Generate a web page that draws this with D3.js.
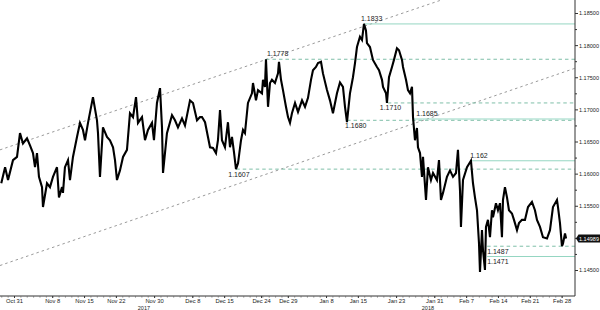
<!DOCTYPE html>
<html>
<head>
<meta charset="utf-8">
<script src="https://cdn.jsdelivr.net/npm/d3@7"></script>
<style>
  body { margin: 0; background: #fff; }
  svg { display: block; }
  text { font-family: "Liberation Sans", Arial, sans-serif; }
</style>
</head>
<body>
<div id="chart"></div>
<script>
// EUR/USD, x = trading day since Oct 27 2017, y = price
const eurusd = [
  [0,1.1585],[0.6,1.1610],[1.06,1.1590],[1.84,1.1621],[2.47,1.1626],[2.94,1.1663],[3.41,1.1647],[4.04,1.1655],
  [4.51,1.1644],[4.98,1.1632],[5.3,1.1610],[5.61,1.1632],[5.92,1.1595],[6.4,1.1579],[6.55,1.1548],[7.18,1.1585],
  [7.65,1.1579],[8.12,1.1595],[8.75,1.1610],[9.06,1.1563],[9.54,1.1579],[9.69,1.1570],[10.0,1.1610],[10.48,1.1621],
  [10.79,1.1590],[11.26,1.1626],[11.89,1.1657],[12.36,1.1679],[12.83,1.1668],[13.15,1.1652],[13.62,1.1679],[14.4,1.1719],
  [15.03,1.1683],[15.19,1.1663],[15.5,1.1595],[15.97,1.1672],[16.6,1.1657],[17.07,1.1652],[17.55,1.1641],[17.86,1.1621],
  [18.17,1.1590],[18.64,1.1605],[19.12,1.1626],[19.74,1.1637],[20.21,1.1694],[20.69,1.1688],[21.16,1.1719],[21.47,1.1679],
  [22.1,1.1688],[22.57,1.1652],[23.04,1.1668],[23.67,1.1679],[23.98,1.1652],[24.45,1.1710],[24.93,1.1733],[25.24,1.1672],
  [25.4,1.1601],[26.02,1.1663],[26.81,1.1691],[27.28,1.1683],[27.75,1.1672],[28.38,1.1686],[28.85,1.1675],[29.64,1.1714],
  [30.11,1.1710],[30.74,1.1683],[31.21,1.1688],[31.52,1.1688],[32.0,1.1680],[32.46,1.1657],[32.78,1.1641],[33.25,1.1640],
  [33.72,1.1632],[34.03,1.1652],[34.35,1.1699],[34.66,1.1652],[35.13,1.1641],[35.6,1.1680],[35.92,1.1641],[36.23,1.1657],
  [36.55,1.1633],[36.86,1.1607],[37.18,1.1616],[37.65,1.1652],[37.96,1.1668],[38.27,1.1663],[38.74,1.1710],[39.37,1.1725],
  [39.53,1.1741],[40.0,1.1714],[40.32,1.1730],[40.94,1.1725],[41.1,1.1746],[41.41,1.1735],[41.57,1.1778],[41.89,1.1704],
  [42.2,1.1741],[42.51,1.1746],[42.98,1.1741],[43.46,1.1756],[43.61,1.1774],[43.93,1.1746],[44.24,1.1730],[44.71,1.1704],
  [45.03,1.1688],[45.34,1.1679],[45.65,1.1694],[46.13,1.1710],[46.6,1.1696],[47.23,1.1714],[47.7,1.1704],[48.17,1.1718],
  [48.64,1.1746],[48.95,1.1761],[49.42,1.1766],[49.74,1.1772],[50.21,1.1774],[50.52,1.1756],[51.15,1.1730],[51.62,1.1714],
  [52.09,1.1694],[52.72,1.1725],[53.19,1.1742],[53.66,1.1735],[53.98,1.1704],[54.29,1.1680],[54.76,1.1725],[55.23,1.1750],
  [55.55,1.1772],[55.86,1.1797],[56.33,1.1813],[56.65,1.1808],[56.96,1.1833],[57.27,1.1823],[57.43,1.1803],[57.9,1.1797],
  [58.37,1.1777],[59.0,1.1766],[59.32,1.1761],[59.79,1.1746],[59.95,1.1735],[60.42,1.1725],[60.57,1.1710],[60.89,1.1750],
  [61.36,1.1766],[61.67,1.1777],[62.14,1.1795],[62.46,1.1792],[62.93,1.1777],[63.09,1.1766],[63.56,1.1746],[63.87,1.1730],
  [64.19,1.1725],[64.5,1.1735],[64.66,1.1688],[64.97,1.1652],[65.28,1.1671],[65.44,1.1641],[65.76,1.1632],[66.07,1.1595],
  [66.23,1.1626],[66.7,1.1559],[67.01,1.1610],[67.48,1.1590],[67.8,1.1601],[68.42,1.1590],[68.74,1.1621],[69.05,1.1559],
  [69.37,1.1570],[69.99,1.1595],[70.47,1.1605],[70.94,1.1595],[71.41,1.1601],[71.72,1.1637],[72.04,1.1574],[72.19,1.1517],
  [72.51,1.1590],[73.14,1.1610],[73.76,1.1620],[74.08,1.1585],[74.39,1.1563],[74.71,1.1543],[75.02,1.1492],[75.18,1.1447],
  [75.49,1.1512],[75.65,1.1481],[75.96,1.1450],[76.12,1.1517],[76.43,1.1528],[76.75,1.1501],[77.06,1.1543],[77.22,1.1532],
  [77.69,1.1554],[78.0,1.1543],[78.32,1.1554],[78.63,1.1501],[78.79,1.1559],[79.1,1.1579],[79.42,1.1563],[79.73,1.1543],
  [80.2,1.1538],[80.52,1.1528],[80.99,1.1512],[81.3,1.1523],[81.77,1.1528],[82.24,1.1528],[82.72,1.1548],[83.34,1.1556],
  [83.81,1.1543],[84.13,1.1528],[84.6,1.1517],[85.07,1.1501],[85.7,1.1499],[86.17,1.1512],[86.64,1.1548],[87.27,1.1559],
  [87.43,1.1548],[87.74,1.1523],[88.05,1.1487],[88.21,1.1491],[88.53,1.1507],[88.7,1.14989]
];

const tickDays = [2, 8, 13, 18, 24, 30, 35, 40.8, 45, 51, 56, 62, 68, 73, 78, 83, 88];
const tickLabels = ['Oct 31','Nov 8','Nov 15','Nov 22','Nov 30','Dec 8','Dec 15','Dec 24','Dec 29',
                    'Jan 8','Jan 15','Jan 23','Jan 31','Feb 7','Feb 14','Feb 21','Feb 28'];
const yearDays = [22.4, 67];
const yearLabels = ['2017', '2018'];
const priceTicks = [1.145, 1.150, 1.155, 1.160, 1.165, 1.170, 1.175, 1.180, 1.185];

const levelPrices = [1.1833, 1.1778, 1.1710, 1.1683, 1.1685, 1.1607, 1.1620, 1.1487, 1.1471];
const levelStart  = [56.96, 41.57, 60.7, 54.3, 64.7, 36.9, 73.8, 76.3, 76.3];
const levelLabels = ['1.1833','1.1778','1.1710','1.1680','1.1685','1.1607','1.162','1.1487','1.1471'];
const levelDashed = [false, true, true, true, false, true, false, true, false];

const channelUpper = [[-0.2, 1.1637], [69.05, 1.1870]];
const channelLower = [[-0.2, 1.1457], [90.1, 1.1764]];
const lastPrice = 1.14989;

const width = 600, height = 310;
const axisX = 575, axisY = 296;

const svg = d3.select('#chart').append('svg')
    .attr('width', width)
    .attr('height', height);

const x = d3.scaleLinear().domain([-0.2, 90.1]).range([0, axisX]);
const y = d3.scaleLinear().domain([1.145, 1.185]).range([270, 13]);

svg.append('defs').append('clipPath').attr('id', 'plot')
  .append('rect').attr('x', 0).attr('y', 0).attr('width', axisX).attr('height', axisY);

const plot = svg.append('g').attr('clip-path', 'url(#plot)');

// trend channel
const seg = d3.line().x(d => x(d[0])).y(d => y(d[1]));
[channelUpper, channelLower].forEach(c => {
  plot.append('path')
      .attr('d', seg(c))
      .attr('fill', 'none')
      .attr('stroke', '#9a9a9a')
      .attr('stroke-width', 1)
      .attr('stroke-dasharray', '2.5,3');
});

// support / resistance levels
const placeBelow = [false, false, true, true, false, true, false, true, true];
const labelDx = [-3, 1, -8, -2, 3, -8, -1, 0, 0];
levelPrices.forEach((p, i) => {
  plot.append('line')
      .attr('x1', x(levelStart[i])).attr('x2', axisX)
      .attr('y1', y(p)).attr('y2', y(p))
      .attr('stroke', levelDashed[i] ? '#7fbfa8' : '#95d6c2')
      .attr('stroke-width', 1)
      .attr('stroke-dasharray', levelDashed[i] ? '3.5,3' : null);
  svg.append('text')
      .attr('x', x(levelStart[i]) + labelDx[i])
      .attr('y', y(p) + (placeBelow[i] ? 7.5 : -3))
      .attr('font-size', 7)
      .attr('fill', '#222')
      .text(levelLabels[i]);
});

// price line
plot.append('path')
    .datum(eurusd)
    .attr('d', d3.line().x(d => x(d[0])).y(d => y(d[1])))
    .attr('fill', 'none')
    .attr('stroke', '#000')
    .attr('stroke-width', 2.1)
    .attr('stroke-linejoin', 'miter');

// y axis
svg.append('line').attr('x1', axisX).attr('x2', axisX).attr('y1', 0).attr('y2', axisY)
    .attr('stroke', '#333').attr('stroke-width', 1);
const yMinor = svg.append('g').attr('transform', `translate(${axisX},0)`)
    .call(d3.axisRight(y).tickValues(priceTicks.slice(0, -1).map(v => v + 0.0025)).tickSize(2).tickFormat(''));
yMinor.select('.domain').remove();
const yAxis = svg.append('g').attr('transform', `translate(${axisX},0)`)
    .call(d3.axisRight(y).tickValues(priceTicks).tickSize(3).tickPadding(1).tickFormat(d3.format('.5f')));
yAxis.select('.domain').remove();
yAxis.selectAll('text')
    .attr('font-size', 6).attr('fill', '#222').attr('font-family', null)
    .attr('textLength', 20).attr('lengthAdjust', 'spacingAndGlyphs');
svg.selectAll('.tick line').attr('stroke', '#333');

// last price tag
const ly = y(lastPrice);
svg.append('path')
    .attr('d', `M${axisX + 1},${ly} L${axisX + 3.5},${ly - 4} L${width},${ly - 4} L${width},${ly + 4} L${axisX + 3.5},${ly + 4} Z`)
    .attr('fill', '#111');
svg.append('text')
    .attr('x', axisX + 4).attr('y', ly + 2.1)
    .attr('font-size', 6).attr('fill', '#fff')
    .attr('textLength', 20).attr('lengthAdjust', 'spacingAndGlyphs')
    .text(d3.format('.5f')(lastPrice));

// x axis
svg.append('line').attr('x1', 0).attr('x2', axisX).attr('y1', axisY).attr('y2', axisY)
    .attr('stroke', '#333').attr('stroke-width', 1);
const xMinor = svg.append('g').attr('transform', `translate(0,${axisY})`)
    .call(d3.axisBottom(x).tickValues(d3.range(0, 89)).tickSize(1.5).tickFormat(''));
xMinor.select('.domain').remove();
xMinor.selectAll('line').attr('stroke', '#777');
const xAxis = svg.append('g').attr('transform', `translate(0,${axisY})`)
    .call(d3.axisBottom(x).tickValues(tickDays).tickSize(2).tickPadding(0.5)
      .tickFormat((d, i) => tickLabels[i]));
xAxis.select('.domain').remove();
xAxis.selectAll('text').attr('font-size', 5.8).attr('fill', '#222').attr('font-family', null);
xAxis.selectAll('line').attr('stroke', '#333');

svg.selectAll('.year')
  .data(yearDays)
  .enter().append('text')
    .attr('class', 'year')
    .attr('x', d => x(d))
    .attr('y', 309.5)
    .attr('text-anchor', 'middle')
    .attr('font-size', 5.5)
    .attr('fill', '#222')
    .text((d, i) => yearLabels[i]);
</script>
</body>
</html>
